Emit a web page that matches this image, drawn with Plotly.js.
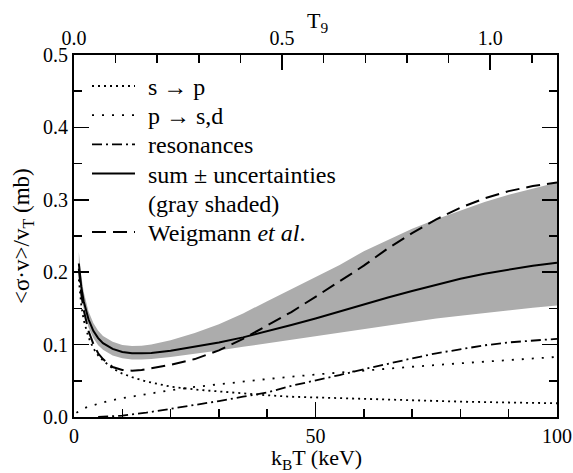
<!DOCTYPE html>
<html>
<head>
<meta charset="utf-8">
<script src="https://cdn.plot.ly/plotly-3.0.1.min.js"></script>
<style>
html,body{margin:0;padding:0;background:#fff;}
#chart{width:573px;height:473px;}
</style>
</head>
<body>
<div id="chart"></div>
<script>
// ---- data ----
const E_band = [1,1.5,2,3,4,5,6,8,10,12,14,16,20,25,30,35,40,45,50,55,60,65,70,75,80,85,90,95,100];
const band_upper = [0.228,0.195,0.173,0.146,0.130,0.119,0.112,0.104,0.0995,0.098,0.0985,0.100,0.106,0.116,0.128,0.143,0.160,0.177,0.194,0.210,0.229,0.245,0.260,0.273,0.285,0.297,0.307,0.316,0.324];
const band_lower = [0.198,0.168,0.149,0.124,0.109,0.099,0.093,0.085,0.081,0.0795,0.0795,0.080,0.083,0.087,0.092,0.097,0.102,0.1065,0.111,0.116,0.121,0.126,0.131,0.136,0.140,0.144,0.148,0.151,0.154];
const E_sum = [1,1.5,2,3,4,5,6,8,10,12,14,16,20,25,30,35,40,45,50,55,60,65,70,75,80,85,90,95,100];
const sum_vals = [0.212,0.180,0.160,0.135,0.119,0.109,0.102,0.094,0.0898,0.0882,0.0880,0.0885,0.0915,0.097,0.103,0.110,0.118,0.127,0.136,0.146,0.155,0.165,0.174,0.183,0.191,0.198,0.204,0.209,0.213];
const E_weig = [1,1.5,2,3,4,5,6,7,8,10,12,14,16,20,25,30,35,40,45,50,55,60,65,70,75,80,85,90,95,100];
const weig_vals = [0.205,0.170,0.148,0.119,0.101,0.088,0.080,0.074,0.069,0.065,0.064,0.065,0.067,0.072,0.080,0.092,0.108,0.126,0.145,0.166,0.188,0.209,0.233,0.254,0.273,0.289,0.302,0.312,0.319,0.324];
const E_sp = [1,1.5,2,3,4,5,6,8,10,12,15,20,25,30,35,40,45,50,60,70,80,90,100];
const sp_vals = [0.190,0.155,0.134,0.110,0.095,0.085,0.078,0.067,0.060,0.055,0.049,0.042,0.038,0.035,0.032,0.030,0.028,0.027,0.0245,0.0227,0.0212,0.020,0.019];
const E_psd = [0.5,1,2,3,5,7,10,15,20,25,30,40,50,60,70,80,90,100];
const psd_vals = [0.006,0.0083,0.0117,0.0144,0.0186,0.022,0.026,0.032,0.037,0.0415,0.0455,0.0525,0.0587,0.0643,0.0694,0.0742,0.0787,0.083];
const E_res = [5,8,10,15,20,25,30,35,40,45,50,55,60,65,70,75,80,85,90,95,100];
const res_vals = [0,0.001,0.002,0.006,0.011,0.017,0.022,0.028,0.034,0.043,0.050,0.058,0.066,0.074,0.081,0.088,0.094,0.099,0.103,0.106,0.108];

const legend_labels = ['s → p','p → s,d','resonances','sum ± uncertainties','(gray shaded)','Weigmann <i>et al</i>.'];
const x_title = 'k<sub>B</sub>T (keV)';
const x2_title = 'T<sub>9</sub>';
const y_title = '&lt;σ·v&gt;/v<sub>T</sub> (mb)';
const x_tickvals = [0,50,100];
const y_tickvals = [0,0.1,0.2,0.3,0.4,0.5];
const t9_tickvals = [0,0.5,1.0];
const KEV_PER_T9 = 86.173;

// ---- styles ----
const FONT = 'Liberation Serif';
const styles = [
  {dash:'2px,4px', width:1.8},
  {dash:'2px,8px', width:1.8},
  {dash:'10px,4px,2px,4px', width:1.8},
  {dash:'solid', width:2},
  null,
  {dash:'14px,7px', width:2}
];

const traces = [
  {x:E_band, y:band_lower, mode:'lines', line:{width:0,color:'rgba(0,0,0,0)'}, showlegend:false, hoverinfo:'skip'},
  {x:E_band, y:band_upper, mode:'lines', line:{width:0,color:'rgba(0,0,0,0)'}, fill:'tonexty', fillcolor:'#acacac', showlegend:false, hoverinfo:'skip'},
  {x:E_sp, y:sp_vals, mode:'lines', line:{color:'#000', width:styles[0].width, dash:styles[0].dash}, showlegend:false},
  {x:E_psd, y:psd_vals, mode:'lines', line:{color:'#000', width:styles[1].width, dash:styles[1].dash}, showlegend:false},
  {x:E_res, y:res_vals, mode:'lines', line:{color:'#000', width:styles[2].width, dash:styles[2].dash}, showlegend:false},
  {x:E_sum, y:sum_vals, mode:'lines', line:{color:'#000', width:styles[3].width, dash:styles[3].dash}, showlegend:false},
  {x:E_weig, y:weig_vals, mode:'lines', line:{color:'#000', width:styles[5].width, dash:styles[5].dash}, showlegend:false},
  {x:[0], y:[null], xaxis:'x2', mode:'lines', showlegend:false, hoverinfo:'skip'}
];

// ---- custom legend and axis titles (layout only) ----
const W = 573, H = 473, L = 74, R = 16, T = 55, B = 56;
const pw = W - L - R, ph = H - T - B;
const px2x = p => (p - L) / pw;
const py2y = p => (H - B - p) / ph;
const legTop = 87, legStep = 29.2;
const annotations = [], shapes = [];
legend_labels.forEach((lab, i) => {
  const yc = legTop + i * legStep;
  annotations.push({xref:'paper', yref:'paper', x:px2x(146), y:py2y(yc), xanchor:'left', yanchor:'middle',
    text:lab, showarrow:false, font:{family:FONT, size:24, color:'#000'}});
  if (styles[i]) {
    shapes.push({type:'line', xref:'paper', yref:'paper', x0:px2x(92), x1:px2x(135), y0:py2y(yc - 1), y1:py2y(yc - 1),
      line:{color:'#000', width:styles[i].width, dash:styles[i].dash}});
  }
});
annotations.push({xref:'paper', yref:'paper', x:px2x(316), y:py2y(459), xanchor:'center', yanchor:'middle',
  text:x_title, showarrow:false, font:{family:FONT, size:22, color:'#000'}});
annotations.push({xref:'paper', yref:'paper', x:px2x(317), y:py2y(22), xanchor:'center', yanchor:'middle',
  text:x2_title, showarrow:false, font:{family:FONT, size:22, color:'#000'}});
annotations.push({xref:'paper', yref:'paper', x:px2x(23), y:py2y(236), xanchor:'center', yanchor:'middle',
  text:y_title, textangle:-90, showarrow:false, font:{family:FONT, size:23, color:'#000'}});

const layout = {
  width: W, height: H,
  margin: {l:L, r:R, t:T, b:B, pad:0},
  paper_bgcolor:'#fff', plot_bgcolor:'#fff',
  font: {family:FONT, size:20, color:'#000'},
  showlegend:false,
  xaxis: {
    range:[0,100], tickvals:x_tickvals, ticktext:x_tickvals.map(String),
    ticks:'inside', ticklen:15, tickwidth:1.5, tickcolor:'#000',
    minor:{dtick:10, tick0:0, ticks:'inside', ticklen:8, tickwidth:1.5, tickcolor:'#000'},
    showline:true, linewidth:2, linecolor:'#000', mirror:false,
    showgrid:false, zeroline:false, tickfont:{family:FONT, size:20}
  },
  xaxis2: {
    overlaying:'x', side:'top', anchor:'y',
    range:[0, 100/KEV_PER_T9], tickvals:t9_tickvals, ticktext:t9_tickvals.map(v=>v.toFixed(1)),
    ticks:'inside', ticklen:15, tickwidth:1.5, tickcolor:'#000',
    minor:{dtick:0.1, tick0:0, ticks:'inside', ticklen:8, tickwidth:1.5, tickcolor:'#000'},
    showline:true, linewidth:2, linecolor:'#000',
    showgrid:false, zeroline:false, tickfont:{family:FONT, size:20}
  },
  yaxis: {
    range:[0,0.5], tickvals:y_tickvals, ticktext:y_tickvals.map(v=>v.toFixed(1)),
    ticks:'inside', ticklen:15, tickwidth:1.5, tickcolor:'#000',
    minor:{dtick:0.05, tick0:0, ticks:'inside', ticklen:8, tickwidth:1.5, tickcolor:'#000'},
    showline:true, linewidth:2, linecolor:'#000', mirror:'ticks',
    showgrid:false, zeroline:false, tickfont:{family:FONT, size:20}
  },
  annotations: annotations,
  shapes: shapes
};

Plotly.newPlot('chart', traces, layout, {staticPlot:true, displayModeBar:false});
</script>
</body>
</html>
